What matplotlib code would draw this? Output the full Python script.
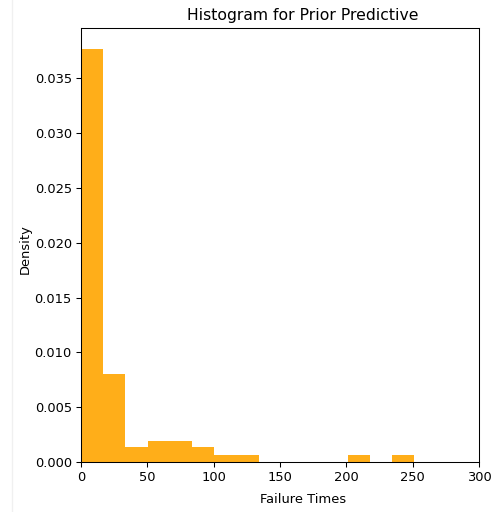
import matplotlib
matplotlib.use("Agg")
import matplotlib.pyplot as plt
import numpy as np

# Bin edges (failure times) and density heights
bin_edges = [0, 16.75, 33.5, 50.25, 67.0, 83.75, 100.5, 117.25, 134.0,
             150.75, 167.5, 184.25, 201.0, 217.75, 234.5, 251.25]
densities = [0.0377, 0.0080, 0.00133, 0.00195, 0.00195, 0.00133, 0.00065, 0.00065,
             0.0, 0.0, 0.0, 0.0, 0.00065, 0.0, 0.00065]

title = "Histogram for Prior Predictive"
xlabel = "Failure Times"
ylabel = "Density"

DPI = 94
fig = plt.figure(figsize=(495 / DPI, 512 / DPI), dpi=DPI)
ax = fig.add_axes([81 / 495, 1 - 462 / 512, 398 / 495, 434 / 512])

centers = [(a + b) / 2 for a, b in zip(bin_edges[:-1], bin_edges[1:])]
ax.hist(centers, bins=bin_edges, weights=densities, color="orange", alpha=0.9)

ax.set_xlim(0, 300)
ax.set_xticks([0, 50, 100, 150, 200, 250, 300])
ax.set_yticks(np.arange(0, 0.0351, 0.005))
ax.set_title(title, fontsize=12, x=0.557)
ax.set_xlabel(xlabel)
ax.xaxis.set_label_coords(0.557, -0.071)
ax.set_ylabel(ylabel)
ax.yaxis.set_label_coords(-0.123, 0.49)

# faint notebook border line at the left
fig.add_artist(plt.Line2D([12 / 495, 12 / 495], [0, 1], transform=fig.transFigure,
                          color="#f0f0f0", lw=1))

fig.savefig("out.png", dpi=DPI)
